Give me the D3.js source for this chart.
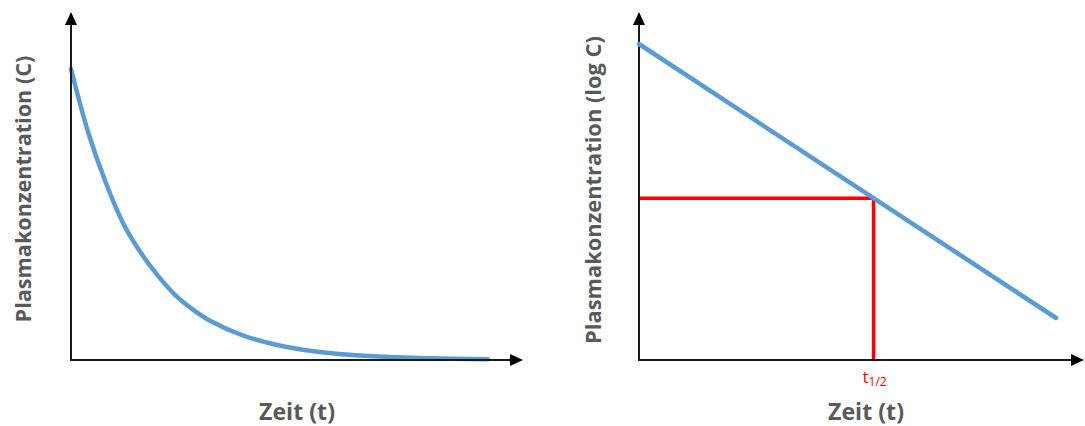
<!DOCTYPE html>
<html><head><meta charset="utf-8">
<script src="https://cdn.jsdelivr.net/npm/d3@7"></script>
<style>body{margin:0;background:#fff}svg{display:block}</style>
</head><body>
<svg id="c" width="1085" height="426"></svg>
<script>
// ---- data ----
const timeLeft  = [0, 0.5, 1, 1.5, 2, 2.5, 3, 3.5, 4, 5, 6, 7, 8, 9, 10, 11, 12];
const concLeft  = [100, 78, 61, 47, 37, 29, 22.3, 17.4, 13.5, 8.2, 5, 3, 1.8, 1.1, 0.7, 0.4, 0.25];
const timeRight = [0, 12];
const concRight = [100, 1];          // plotted on a log axis
const halfLifeT = 6.75;
const xTitle = "Zeit (t)";
const yTitleLeft = "Plasmakonzentration (C)";
const yTitleRight = "Plasmakonzentration (log C)";
const halfLifeMain = "t", halfLifeSub = "1/2";

const svg = d3.select("#c");
const blue = "#5B9BD5", red = "#FF0000", axisCol = "#1a1a1a", titleCol = "#595959";
const font = "'Open Sans', sans-serif";

// ---- scales ----
const xL = d3.scaleLinear().domain([0, 12]).range([71, 488]);
const yL = d3.scaleLinear().domain([0, 100]).range([360, 69]);
const xR = d3.scaleLinear().domain([0, 12]).range([639, 1056]);
const yR = d3.scaleLog().domain([1, 100]).range([318, 44]);

function axes(x0, y0, xEnd, yTop) {
  const g = svg.append("g");
  const ah = 13, aw = 6;
  g.append("line").attr("x1", x0).attr("y1", y0).attr("x2", xEnd - ah + 1).attr("y2", y0)
    .attr("stroke", axisCol).attr("stroke-width", 2);
  g.append("path").attr("d", `M${xEnd - ah},${y0 - aw}L${xEnd},${y0}L${xEnd - ah},${y0 + aw}Z`).attr("fill", "#000");
  g.append("line").attr("x1", x0).attr("y1", y0 + 1).attr("x2", x0).attr("y2", yTop + ah - 1)
    .attr("stroke", axisCol).attr("stroke-width", 2);
  g.append("path").attr("d", `M${x0 - aw},${yTop + ah}L${x0},${yTop}L${x0 + aw},${yTop + ah}Z`).attr("fill", "#000");
}

// left curve
const leftData = timeLeft.map((t, i) => [t, concLeft[i]]);
svg.append("path").datum(leftData)
  .attr("d", d3.line().x(d => xL(d[0])).y(d => yL(d[1])).curve(d3.curveCatmullRom.alpha(0.5)))
  .attr("fill", "none").attr("stroke", blue).attr("stroke-width", 4.5).attr("stroke-linecap", "round");

// right: half-life guide lines
const cHalf = Math.pow(10, Math.log10(concRight[0]) +
  (Math.log10(concRight[1]) - Math.log10(concRight[0])) * (halfLifeT - timeRight[0]) / (timeRight[1] - timeRight[0]));
svg.append("path")
  .attr("d", `M${xR(0)},${yR(cHalf)}H${xR(halfLifeT)}V${yL(0)}`)
  .attr("fill", "none").attr("stroke", red).attr("stroke-width", 3.5);

axes(71, 360, 523, 12);
axes(639, 360, 1084, 12);

// right line
const rightData = timeRight.map((t, i) => [t, concRight[i]]);
svg.append("path").datum(rightData)
  .attr("d", d3.line().x(d => xR(d[0])).y(d => yR(d[1])))
  .attr("fill", "none").attr("stroke", blue).attr("stroke-width", 4.5).attr("stroke-linecap", "round");

// t1/2 label
const lab = svg.append("text").attr("x", xR(halfLifeT) + 1).attr("y", 383).attr("text-anchor", "middle")
  .attr("fill", red).attr("font-family", font).attr("font-size", 17);
lab.append("tspan").text(halfLifeMain);
lab.append("tspan").attr("dy", 3).attr("font-size", 12).text(halfLifeSub);

// titles (fit to the widths measured on the reference)
function title(txt, x, y, rot, target) {
  const t = svg.append("text").attr("transform", `translate(${x},${y}) rotate(${rot})`)
    .attr("text-anchor", "middle").attr("dominant-baseline", "central")
    .attr("fill", titleCol).attr("font-family", font).attr("font-weight", "bold")
    .attr("font-size", 20).text(txt);
  const len = t.node().getComputedTextLength();
  t.attr("font-size", 20 * target / len);
}
title(yTitleLeft, 22.5, 189, -90, 267);
title(yTitleRight, 592.5, 190, -90, 308);
title(xTitle, 297, 411, 0, 76);
title(xTitle, 866, 411, 0, 76);
</script>
</body></html>
